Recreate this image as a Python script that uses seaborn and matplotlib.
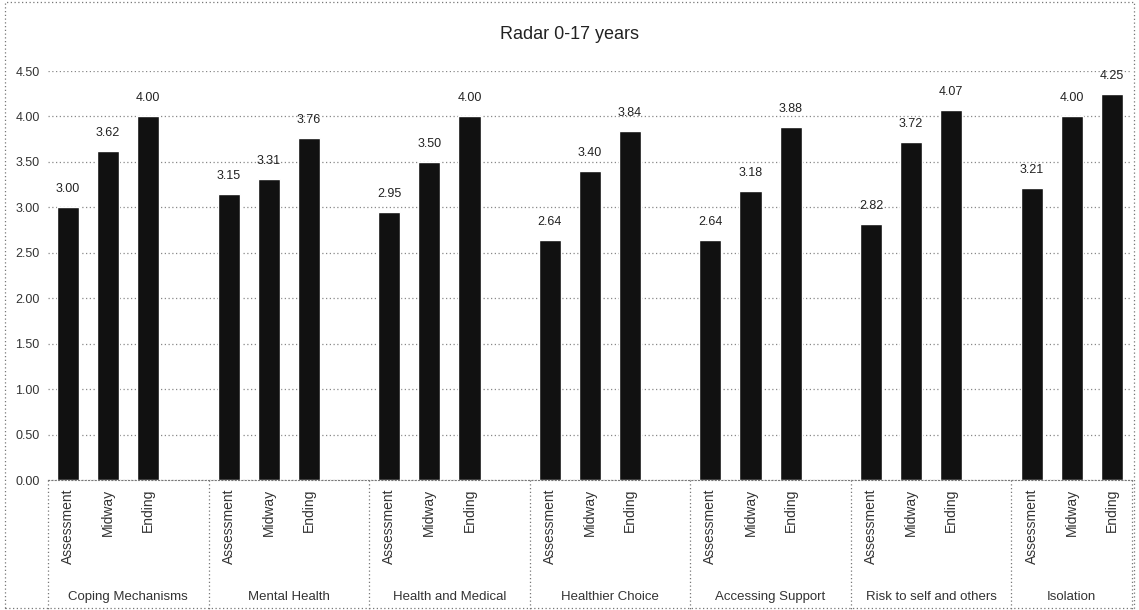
import matplotlib
matplotlib.use("Agg")
import matplotlib.pyplot as plt
import seaborn as sns
import pandas as pd
import numpy as np

categories = ["Coping Mechanisms", "Mental Health", "Health and Medical",
              "Healthier Choice", "Accessing Support", "Risk to self and others",
              "Isolation"]
stages = ["Assessment", "Midway", "Ending"]
assessment = [3.00, 3.15, 2.95, 2.64, 2.64, 2.82, 3.21]
midway = [3.62, 3.31, 3.50, 3.40, 3.18, 3.72, 4.00]
ending = [4.00, 3.76, 4.00, 3.84, 3.88, 4.07, 4.25]
yticks = [0.0, 0.5, 1.0, 1.5, 2.0, 2.5, 3.0, 3.5, 4.0, 4.5]
title = "Radar 0-17 years"

sns.set_style("white")
plt.rcParams['font.family'] = ['Liberation Sans Narrow', 'Liberation Sans', 'DejaVu Sans']

rows = []
series = [assessment, midway, ending]
for g, cat in enumerate(categories):
    for i, st in enumerate(stages):
        rows.append({"pos": g * 4 + i, "cat": cat, "stage": st, "value": series[i][g]})
df = pd.DataFrame(rows)

fig = plt.figure(figsize=(11.39, 6.10), dpi=100)
ax = fig.add_axes([0.0421, 0.213, 0.9517, 0.6706])

sns.barplot(data=df, x="pos", y="value", native_scale=True, width=0.55,
            color="#111111", saturation=1, errorbar=None, ax=ax)

n_groups = len(categories)
xmax = (n_groups - 1) * 4 + 2.5
ax.set_xlim(-0.5, xmax)
ax.set_ylim(0, 4.5)
ax.set_yticks(yticks)
ax.set_yticklabels([f"{v:.2f}" for v in yticks], fontsize=9, color="#333333")
ax.yaxis.grid(True, linestyle=(0, (1, 2)), color="#888888", linewidth=0.9)
ax.set_axisbelow(True)
for s in ["top", "right", "left"]:
    ax.spines[s].set_visible(False)
ax.spines["bottom"].set_linestyle((0, (1, 2)))
ax.spines["bottom"].set_color("#777777")
ax.tick_params(axis="y", length=0, pad=6)
ax.tick_params(axis="x", length=0, pad=6)
ax.set_xlabel("")
ax.set_ylabel("")

# data labels
for _, r in df.iterrows():
    ax.text(r["pos"], r["value"] + 0.2, f"{r['value']:.2f}", ha="center", va="center",
            fontsize=9, color="#222222")

# leaf labels
ax.set_xticks(df["pos"].tolist())
ax.set_xticklabels(df["stage"].tolist(), rotation=90, fontsize=10, color="#333333",
                   va="top")

# group labels & dividers
trans = ax.get_xaxis_transform()
for g, cat in enumerate(categories):
    right = g * 4 + 3.5 if g < n_groups - 1 else xmax
    center = (g * 4 - 0.5 + right) / 2
    ax.text(center, -0.285, cat, transform=trans, ha="center", va="center",
            fontsize=9.5, color="#333333")
bounds = [g * 4 - 0.5 for g in range(n_groups)] + [xmax]
for xv in bounds:
    ax.plot([xv, xv], [0, -0.36], transform=trans, clip_on=False,
            color="#777777", linestyle=(0, (1, 2)), linewidth=0.9)

fig.text(0.5, 0.943, title, ha="center", va="center", fontsize=13, color="#222222")

border = plt.Rectangle((0.004, 0.004), 0.992, 0.992, transform=fig.transFigure,
                       fill=False, edgecolor="#777777", linestyle=(0, (1, 2)), linewidth=0.9)
fig.patches.append(border)

fig.savefig("out.png", dpi=100)
